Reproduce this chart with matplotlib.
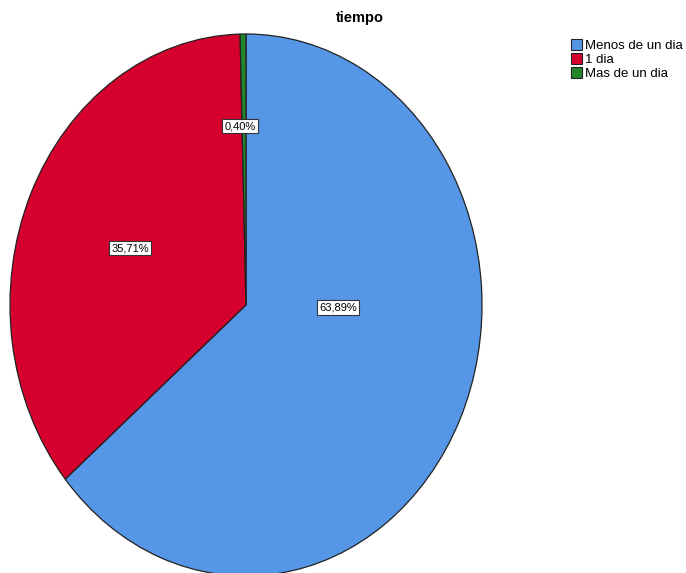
import matplotlib
matplotlib.use("Agg")

import matplotlib.pyplot as plt
from matplotlib.patches import Patch

categories = ["Menos de un dia", "1 dia", "Mas de un dia"]
percentages = [63.89, 35.71, 0.40]
colors = ["#5596e6", "#d5002e", "#23862a"]

# label positions in axes data units (pie radius = 1)
label_pos = [(0.39, -0.01), (-0.49, 0.21), (-0.025, 0.66)]

plt.rcParams["font.family"] = ["Liberation Sans", "DejaVu Sans"]

W, H = 686, 573
fig = plt.figure(figsize=(W / 100, H / 100), dpi=100)

cx, cy, rx, ry = 246, 305, 236, 271
ax = fig.add_axes([(cx - rx) / W, 1 - (cy + ry) / H, 2 * rx / W, 2 * ry / H])

wedges, texts, autotexts = ax.pie(
    percentages,
    colors=colors,
    startangle=90,
    counterclock=False,
    autopct=lambda p: f"{p:.2f}%".replace(".", ","),
    wedgeprops=dict(edgecolor="#222222", linewidth=0.9),
    textprops=dict(fontsize=8, color="black"),
)
for t, pos in zip(autotexts, label_pos):
    t.set_position(pos)
    t.set_ha("center")
    t.set_va("center")
    t.set_bbox(dict(boxstyle="square,pad=0.2", facecolor="white", edgecolor="#333333", linewidth=0.8))

ax.set_aspect("auto")
ax.set_xlim(-1.0, 1.0)
ax.set_ylim(-1.0, 1.0)
ax.axis("off")

fig.text(360 / W, 1 - 18 / H, "tiempo", ha="center", va="center", fontsize=10.5, fontweight="bold")

handles = [Patch(facecolor=c, edgecolor="#222222", linewidth=0.8) for c in colors]
fig.legend(
    handles, categories,
    loc="upper left", bbox_to_anchor=(571 / W, 1 - 39 / H),
    frameon=False, fontsize=9.5,
    handlelength=0.85, handleheight=0.85, handletextpad=0.2,
    labelspacing=0.1, borderpad=0, borderaxespad=0,
)

fig.savefig("out.png", dpi=100)
